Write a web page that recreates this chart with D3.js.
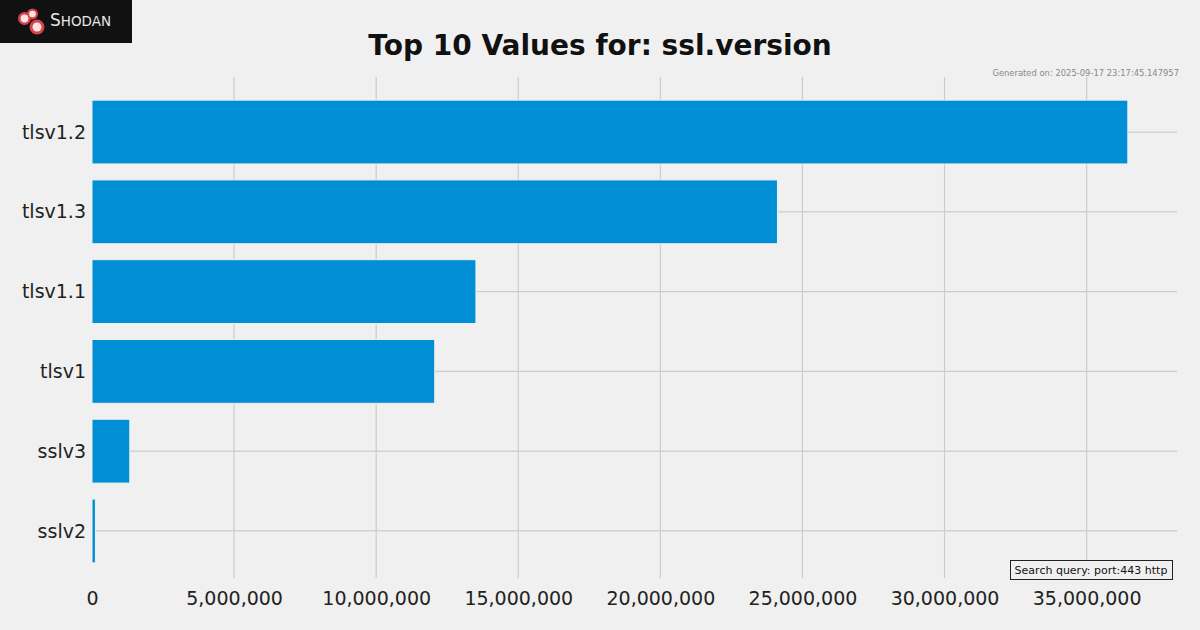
<!DOCTYPE html>
<html>
<head>
<meta charset="utf-8">
<script src="https://cdn.jsdelivr.net/npm/d3@7"></script>
<style>
  body { margin: 0; background: #f0f0f0; }
  svg { display: block; font-family: "DejaVu Sans", sans-serif; }
</style>
</head>
<body>
<svg id="chart" width="1200" height="630"></svg>
<script>
// data
const categories = ['tlsv1.2', 'tlsv1.3', 'tlsv1.1', 'tlsv1', 'sslv3', 'sslv2'];
const counts = [36450000, 24120000, 13510000, 12060000, 1330000, 120000];
const xTicks = [0, 5000000, 10000000, 15000000, 20000000, 25000000, 30000000, 35000000];

const width = 1200;
const height = 630;
const plotLeft = 92, plotRight = 1177, plotTop = 77, plotBottom = 586;

const svg = d3.select('#chart');

svg.append('rect')
  .attr('width', width).attr('height', height)
  .attr('fill', '#f0f0f0');

const xScale = d3.scaleLinear()
  .domain([0, 38180000])
  .range([plotLeft, plotRight]);

// matplotlib-style band: bar height 0.8 with 5% margins
const yScale = d3.scaleLinear()
  .domain([-0.69, categories.length - 1 + 0.69])
  .range([plotTop, plotBottom]);

// grid lines (the one at 0 sits on the axes edge and is not seen)
svg.append('g')
  .selectAll('line')
  .data(xTicks.filter(d => d > 0))
  .join('line')
  .attr('x1', d => xScale(d)).attr('x2', d => xScale(d))
  .attr('y1', plotTop).attr('y2', plotBottom - 8)
  .attr('stroke', '#cbcbcb').attr('stroke-width', 1.2);

svg.append('g')
  .selectAll('line')
  .data(categories)
  .join('line')
  .attr('x1', plotLeft).attr('x2', plotRight)
  .attr('y1', (d, i) => yScale(i)).attr('y2', (d, i) => yScale(i))
  .attr('stroke', '#cbcbcb').attr('stroke-width', 1.2);

// bars
svg.append('g')
  .selectAll('rect')
  .data(counts)
  .join('rect')
  .attr('x', xScale(0))
  .attr('y', (d, i) => yScale(i - 0.4))
  .attr('width', d => xScale(d) - xScale(0))
  .attr('height', yScale(0.4) - yScale(-0.4))
  .attr('fill', '#008fd5')
  .attr('stroke', '#f0f0f0')
  .attr('stroke-width', 1);

// axes
const xAxis = d3.axisBottom(xScale)
  .tickValues(xTicks)
  .tickSize(0)
  .tickPadding(6)
  .tickFormat(d3.format(','));

const gx = svg.append('g')
  .attr('transform', `translate(0, ${plotBottom})`)
  .call(xAxis);
gx.select('.domain').remove();
gx.selectAll('text')
  .attr('font-size', 19)
  .attr('fill', '#222')
  .attr('font-family', '"DejaVu Sans", sans-serif');

const yAxis = d3.axisLeft(yScale)
  .tickValues(d3.range(categories.length))
  .tickSize(0)
  .tickPadding(6)
  .tickFormat(i => categories[i]);

const gy = svg.append('g')
  .attr('transform', `translate(${plotLeft}, 0)`)
  .call(yAxis);
gy.select('.domain').remove();
gy.selectAll('text')
  .attr('font-size', 19)
  .attr('fill', '#222')
  .attr('font-family', '"DejaVu Sans", sans-serif');

// title
svg.append('text')
  .attr('x', 600).attr('y', 55)
  .attr('text-anchor', 'middle')
  .attr('font-size', 28)
  .attr('font-weight', 'bold')
  .attr('fill', '#111')
  .text('Top 10 Values for: ssl.version');

svg.append('text')
  .attr('x', 1179).attr('y', 76)
  .attr('text-anchor', 'end')
  .attr('font-size', 8.4)
  .attr('fill', '#888')
  .text('Generated on: 2025-09-17 23:17:45.147957');

// search query box
const q = svg.append('g');
q.append('rect')
  .attr('x', 1010.5).attr('y', 560.5)
  .attr('width', 162).attr('height', 19)
  .attr('fill', '#f0f0f0')
  .attr('stroke', '#222').attr('stroke-width', 1);
q.append('text')
  .attr('x', 1091).attr('y', 574)
  .attr('text-anchor', 'middle')
  .attr('font-size', 11)
  .attr('fill', '#111')
  .text('Search query: port:443 http');

// logo
const logo = svg.append('g');
logo.append('rect')
  .attr('width', 132).attr('height', 43)
  .attr('fill', '#111');
const dots = [[24.5, 18.5, 6.5], [32.5, 14, 5.5], [37, 27, 7.5]];
logo.append('g').selectAll('circle')
  .data(dots)
  .join('circle')
  .attr('cx', d => d[0]).attr('cy', d => d[1]).attr('r', d => d[2])
  .attr('fill', '#d9424a');
logo.append('g').selectAll('circle')
  .data(dots)
  .join('circle')
  .attr('cx', d => d[0]).attr('cy', d => d[1]).attr('r', d => d[2] * 0.6)
  .attr('fill', '#fbe3e3');
logo.append('text')
  .attr('x', 50).attr('y', 26)
  .attr('font-size', 17)
  .attr('fill', '#e6e6e6')
  .attr('font-family', '"DejaVu Sans", sans-serif')
  .html('S<tspan font-size="13.5">HODAN</tspan>');
</script>
</body>
</html>
